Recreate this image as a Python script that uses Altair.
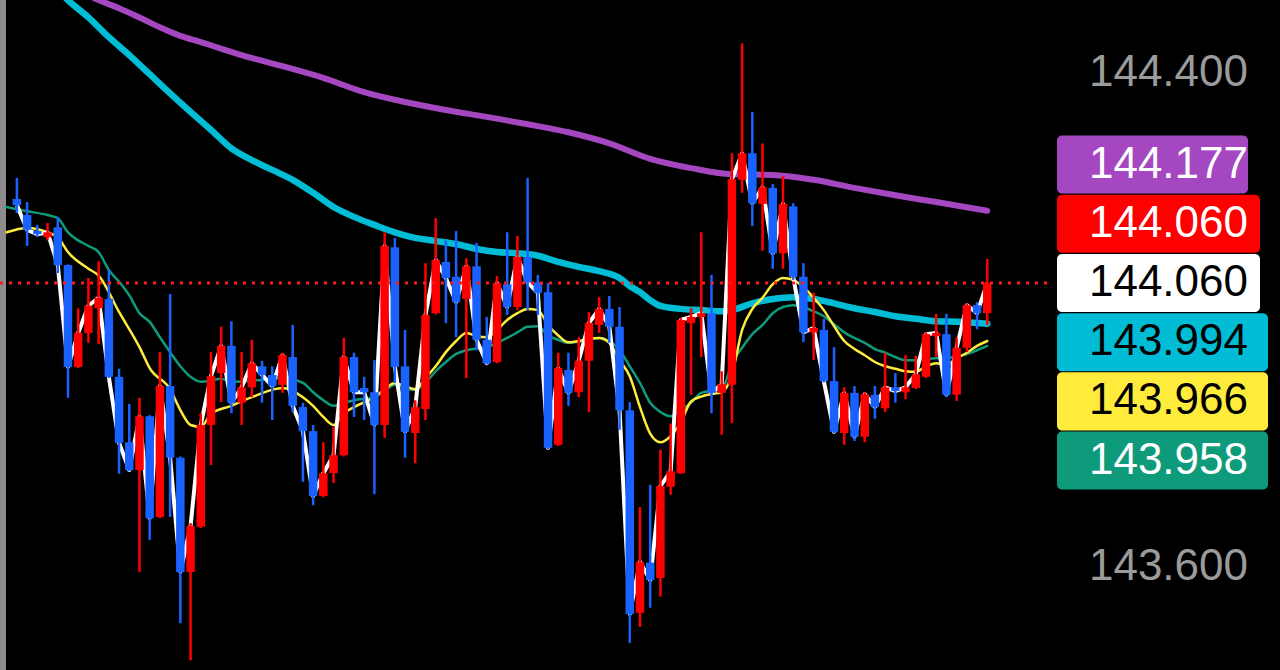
import altair as alt
import pandas as pd

# ---------------- data ----------------
OPEN = [144.196, 144.170, 144.144, 144.134, 144.150, 144.089, 143.924, 143.979, 144.019, 144.034,
        143.908, 143.802, 143.757, 143.844, 143.681, 143.893, 143.777, 143.592, 143.665, 143.830,
        143.914, 143.958, 143.866, 143.891, 143.925, 143.911, 143.895, 143.940, 143.859, 143.820,
        143.715, 143.752, 143.781, 143.940, 143.890, 143.883, 143.830, 144.118, 143.925, 143.817,
        143.856, 144.011, 144.094, 144.070, 144.034, 144.087, 143.968, 143.932, 144.058, 144.021,
        144.102, 144.061, 144.045, 143.798, 143.919, 143.883, 143.934, 143.992, 144.018, 143.989,
        143.854, 143.526, 143.607, 143.582, 143.730, 143.752, 143.995, 144.005, 144.011, 143.882,
        143.895, 144.227, 144.270, 144.188, 144.214, 144.108, 144.184, 144.070, 143.980, 143.984,
        143.901, 143.817, 143.882, 143.811, 143.879, 143.857, 143.891, 143.883, 143.890, 143.908,
        143.974, 143.977, 143.879, 143.955, 144.024, 144.011]
HIGH = [144.230, 144.191, 144.154, 144.157, 144.167, 144.090, 144.019, 144.068, 144.095, 144.081,
        143.921, 143.864, 143.874, 143.846, 143.948, 144.042, 143.779, 143.671, 143.849, 143.948,
        143.989, 143.998, 143.948, 143.968, 143.934, 143.925, 143.947, 143.992, 143.866, 143.830,
        143.802, 143.827, 143.971, 143.947, 143.908, 143.935, 144.142, 144.133, 143.984, 143.870,
        144.092, 144.165, 144.129, 144.144, 144.100, 144.125, 144.005, 144.071, 144.142, 144.136,
        144.230, 144.073, 144.060, 143.947, 143.947, 143.972, 144.013, 144.037, 144.039, 144.021,
        143.867, 143.697, 143.733, 143.790, 143.832, 144.003, 144.019, 144.142, 144.073, 143.917,
        144.270, 144.448, 144.337, 144.286, 144.220, 144.233, 144.189, 144.092, 144.044, 144.002,
        143.956, 143.891, 143.893, 143.883, 143.893, 143.947, 143.914, 143.943, 143.942, 143.980,
        144.010, 144.010, 143.972, 144.027, 144.029, 144.099]
LOW = [144.173, 144.120, 144.134, 144.129, 144.076, 143.874, 143.922, 143.963, 143.961, 143.906,
       143.751, 143.755, 143.592, 143.644, 143.679, 143.681, 143.509, 143.449, 143.663, 143.765,
       143.867, 143.849, 143.830, 143.875, 143.866, 143.838, 143.882, 143.851, 143.738, 143.700,
       143.713, 143.736, 143.779, 143.843, 143.838, 143.718, 143.809, 143.898, 143.777, 143.768,
       143.838, 144.009, 143.995, 143.972, 143.906, 143.951, 143.928, 143.930, 144.008, 144.016,
       144.016, 144.008, 143.791, 143.796, 143.861, 143.875, 143.851, 143.979, 143.963, 143.822,
       143.477, 143.503, 143.534, 143.552, 143.717, 143.751, 143.879, 143.940, 143.849, 143.814,
       143.833, 144.206, 144.152, 144.112, 144.083, 144.083, 144.065, 143.964, 143.935, 143.899,
       143.817, 143.798, 143.804, 143.802, 143.840, 143.851, 143.866, 143.872, 143.888, 143.906,
       143.940, 143.875, 143.869, 143.948, 143.985, 143.992]
CLOSE = [144.186, 144.146, 144.139, 144.142, 144.089, 143.924, 143.979, 144.023, 144.036, 143.908,
         143.801, 143.757, 143.844, 143.679, 143.893, 143.777, 143.592, 143.666, 143.830, 143.909,
         143.958, 143.866, 143.891, 143.930, 143.911, 143.893, 143.943, 143.861, 143.820, 143.715,
         143.752, 143.781, 143.940, 143.883, 143.883, 143.830, 144.120, 143.924, 143.819, 143.859,
         144.008, 144.097, 144.068, 144.029, 144.087, 143.968, 143.930, 144.060, 144.021, 144.102,
         144.061, 144.044, 143.793, 143.922, 143.882, 143.934, 143.995, 144.018, 143.989, 143.854,
         143.524, 143.608, 143.579, 143.731, 143.755, 144.000, 144.005, 144.011, 143.882, 143.896,
         144.228, 144.270, 144.189, 144.215, 144.108, 144.188, 144.070, 143.980, 143.987, 143.901,
         143.819, 143.882, 143.811, 143.880, 143.859, 143.891, 143.885, 143.891, 143.912, 143.977,
         143.979, 143.879, 143.955, 144.024, 144.011, 144.060]

# moving averages: (candle index, value)
YEL_I = [-1, 1, 3, 4, 5, 7, 8, 10, 12, 13, 15, 16, 17, 18, 19, 21, 23, 26, 28, 29, 30, 31, 32, 33, 35, 36,
         37, 38, 39, 40, 41, 42, 43, 44, 45, 46, 47, 48, 49, 50, 51, 52, 53, 54, 55, 56, 57, 58, 59, 60,
         61, 62, 63, 64, 65, 66, 67, 68, 69, 70, 71, 72, 73, 74, 75, 76, 77, 78, 79, 80, 81, 82, 83, 84,
         85, 86, 87, 88, 89, 90, 91, 92, 93, 94, 95]
YEL_V = [144.142, 144.149, 144.142, 144.134, 144.110, 144.083, 144.072, 144.013, 143.956, 143.922,
         143.888, 143.854, 143.830, 143.827, 143.848, 143.861, 143.875, 143.890, 143.875, 143.861,
         143.843, 143.830, 143.849, 143.859, 143.875, 143.888, 143.898, 143.893, 143.888, 143.906,
         143.925, 143.948, 143.966, 143.979, 143.974, 143.972, 143.984, 144.000, 144.011, 144.018,
         144.016, 143.992, 143.975, 143.964, 143.966, 143.970, 143.971, 143.963, 143.935, 143.909,
         143.859, 143.816, 143.802, 143.812, 143.835, 143.868, 143.876, 143.880, 143.883, 143.911,
         143.984, 144.018, 144.036, 144.058, 144.068, 144.065, 144.053, 144.036, 144.016, 143.990,
         143.966, 143.953, 143.943, 143.932, 143.925, 143.921, 143.917, 143.916, 143.925, 143.930,
         143.927, 143.938, 143.947, 143.958, 143.966]
GRN_I = [-1, 1, 3, 4, 5, 6, 7, 8, 9, 10, 11, 12, 13, 14, 15, 16, 17, 18, 20, 21, 24, 26, 28, 29, 30, 31,
         32, 33, 35, 36, 37, 38, 39, 40, 41, 42, 43, 44, 45, 46, 47, 48, 49, 50, 51, 52, 53, 54, 56, 57,
         58, 59, 60, 61, 62, 63, 64, 65, 66, 67, 68, 69, 70, 71, 72, 73, 74, 75, 76, 77, 78, 79, 80, 81,
         82, 83, 84, 85, 86, 87, 88, 89, 90, 91, 92, 93, 94, 95]
GRN_V = [144.183, 144.176, 144.170, 144.165, 144.142, 144.129, 144.120, 144.110, 144.081, 144.062,
         144.040, 144.011, 143.997, 143.972, 143.948, 143.925, 143.908, 143.900, 143.905, 143.900,
         143.903, 143.906, 143.898, 143.883, 143.870, 143.861, 143.866, 143.870, 143.875, 143.885,
         143.895, 143.889, 143.887, 143.898, 143.917, 143.932, 143.945, 143.951, 143.954, 143.956,
         143.963, 143.971, 143.980, 143.989, 143.990, 143.975, 143.968, 143.963, 143.968, 143.971,
         143.966, 143.951, 143.925, 143.898, 143.866, 143.851, 143.844, 143.854, 143.866, 143.882,
         143.885, 143.887, 143.930, 143.955, 143.977, 143.992, 144.011, 144.021, 144.024, 144.021,
         144.014, 144.006, 143.993, 143.980, 143.971, 143.963, 143.953, 143.947, 143.940, 143.935,
         143.935, 143.937, 143.938, 143.939, 143.940, 143.945, 143.951, 143.958]
CYA_I = [3, 5, 7, 9, 11, 13, 15, 17, 19, 21, 23, 25, 27, 29, 31, 33, 35, 37, 39, 41, 43, 45, 47, 49, 51,
         53, 55, 57, 59, 60, 61, 62, 63, 65, 67, 69, 70, 72, 74, 76, 78, 80, 82, 84, 86, 88, 90, 92, 95]
CYA_V = [144.553, 144.518, 144.490, 144.458, 144.429, 144.398, 144.367, 144.337, 144.308, 144.278,
         144.259, 144.243, 144.227, 144.206, 144.183, 144.167, 144.154, 144.142, 144.133, 144.128,
         144.123, 144.115, 144.110, 144.108, 144.104, 144.094, 144.086, 144.079, 144.068, 144.055,
         144.045, 144.032, 144.023, 144.018, 144.016, 144.014, 144.016, 144.027, 144.034, 144.037,
         144.034, 144.027, 144.019, 144.013, 144.006, 144.002, 143.998, 143.997, 143.994]
PUR_I = [7, 8, 10, 12, 14, 16, 18, 22, 26, 30, 34, 38, 42, 46, 50, 54, 58, 62, 66, 70, 74, 78, 82, 86,
         90, 95]
PUR_V = [144.526, 144.518, 144.505, 144.490, 144.474, 144.460, 144.450, 144.429, 144.411, 144.392,
         144.369, 144.353, 144.340, 144.329, 144.317, 144.304, 144.286, 144.261, 144.246, 144.236,
         144.235, 144.227, 144.214, 144.202, 144.191, 144.177]

CURRENT = 144.060
LABELS = ["144.177", "144.060", "144.060", "143.994", "143.966", "143.958"]
AXIS_TICKS = [144.400, 143.600]

# ---------------- styles / layout ----------------
UP, DOWN = "#ff0000", "#1a62ff"
PURPLE, CYAN, YELLOW, GREEN = "#a647c2", "#00bcd4", "#ffeb3b", "#0e9b7b"
LABEL_FILL = [PURPLE, "#ff0000", "#ffffff", CYAN, YELLOW, GREEN]
LABEL_TEXT = ["#ffffff", "#ffffff", "#000000", "#000000", "#000000", "#ffffff"]
FONT = "Liberation Sans"
W, H = 1280, 670

n = len(OPEN)
candles = pd.DataFrame({"i": list(range(n)), "open": OPEN, "high": HIGH, "low": LOW, "close": CLOSE})
candles["dir"] = ["up" if c >= o else "down" for o, c in zip(OPEN, CLOSE)]

xs = alt.Scale(domain=[-1.1656, 123.17], nice=False, zero=False)
ys = alt.Scale(domain=[143.4332, 144.5182], nice=False, zero=False)
col = alt.Color("dir:N", scale=alt.Scale(domain=["up", "down"], range=[UP, DOWN]), legend=None)

X = alt.X("i:Q", scale=xs, axis=None)


def ma_layer(idx, vals, color, width):
    df = pd.DataFrame({"i": idx, "v": vals})
    return alt.Chart(df).mark_line(color=color, strokeWidth=width, interpolate="monotone",
                                   clip=True, strokeCap="round", strokeJoin="round").encode(
        x=X, y=alt.Y("v:Q", scale=ys, axis=None))


left_bar = alt.Chart(pd.DataFrame({"a": [0]})).mark_rect(color="#8c8c8c").encode(
    x=alt.value(0), x2=alt.value(6), y=alt.value(0), y2=alt.value(H))

purple = ma_layer(PUR_I, PUR_V, PURPLE, 6)
cyan = ma_layer(CYA_I, CYA_V, CYAN, 6.5)
green = ma_layer(GRN_I, GRN_V, GREEN, 2.5)
yellow = ma_layer(YEL_I, YEL_V, YELLOW, 2.5)

close_line = alt.Chart(candles).mark_line(color="#ffffff", strokeWidth=4, clip=True,
                                          strokeJoin="round").encode(
    x=X, y=alt.Y("close:Q", scale=ys, axis=None))

wicks = alt.Chart(candles).mark_rule(strokeWidth=2.5, clip=True).encode(
    x=X, y=alt.Y("low:Q", scale=ys, axis=None), y2="high:Q", color=col)

bodies = alt.Chart(candles).mark_bar(size=8.5, clip=True).encode(
    x=X, y=alt.Y("open:Q", scale=ys, axis=None), y2="close:Q", color=col)

price_line = alt.Chart(pd.DataFrame({"p": [CURRENT]})).mark_rule(
    color="#ff1a1a", strokeWidth=3, strokeDash=[3, 6]).encode(
    y=alt.Y("p:Q", scale=ys, axis=None), x=alt.value(0), x2=alt.value(1048))

# price-axis labels on the right
ticks = pd.DataFrame({"p": AXIS_TICKS})
ticks["txt"] = [f"{v:.3f}" for v in AXIS_TICKS]
axis_labels = alt.Chart(ticks).mark_text(align="right", baseline="middle", font=FONT,
                                         fontSize=44, color="#9b9b9b").encode(
    x=alt.value(1248), y=alt.Y("p:Q", scale=ys, axis=None), text="txt:N")

# stacked value labels around the current price
step = 0.0959
half = 0.0470
slots = [-2, -1, 0, 1, 2, 3]
lab = pd.DataFrame({"label": LABELS, "slot": slots, "fill": LABEL_FILL, "tc": LABEL_TEXT})
lab["mid"] = CURRENT - lab["slot"] * step
lab["top"] = lab["mid"] + half
lab["bot"] = lab["mid"] - half


def box_layer(slot_filter, right):
    return alt.Chart(lab).transform_filter(slot_filter).mark_rect(cornerRadius=5).encode(
        x=alt.value(1057), x2=alt.value(right),
        y=alt.Y("top:Q", scale=ys, axis=None), y2="bot:Q",
        color=alt.Color("fill:N", scale=None))


box_a = box_layer("datum.slot == -2", 1248)
box_b = box_layer("datum.slot == -1 || datum.slot == 0", 1260)
box_c = box_layer("datum.slot >= 1", 1268)

texts = alt.Chart(lab).mark_text(align="right", baseline="middle", font=FONT, fontSize=44).encode(
    x=alt.value(1248), y=alt.Y("mid:Q", scale=ys, axis=None), text="label:N",
    color=alt.Color("tc:N", scale=None))

chart = alt.layer(
    left_bar, purple, cyan, green, yellow, close_line, wicks, bodies, price_line,
    axis_labels, box_a, box_b, box_c, texts
).properties(
    width=W, height=H, padding=0, autosize=alt.AutoSizeParams(type="none")
).configure(background="#000000").configure_view(stroke=None)

# remove the page margin so the black chart fills the window
try:
    import altair.utils.html as _ah
    _orig_tpl = _ah.TEMPLATES["standard"]

    class _Tpl:
        def render(self, *a, **k):
            s = _orig_tpl.render(*a, **k)
            return s.replace("<head>", "<head>\n<style>html,body{margin:0;padding:0;background:#000;overflow:hidden;}</style>", 1)

    _ah.TEMPLATES["standard"] = _Tpl()
except Exception:
    pass

chart.save("out.html", embed_options={"renderer": "svg", "actions": False})
